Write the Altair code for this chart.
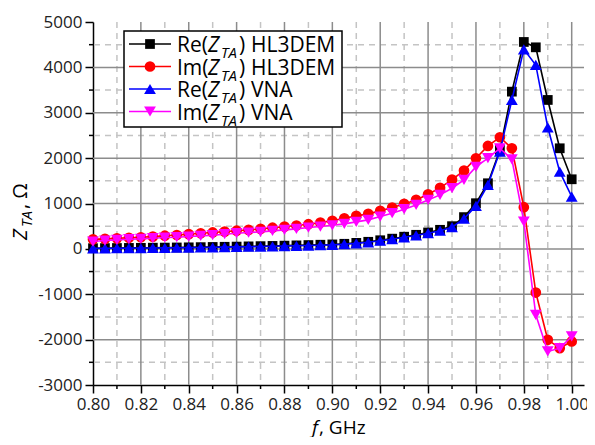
import altair as alt
import pandas as pd

# ---------------- data ----------------
freq = [0.800, 0.805, 0.810, 0.815, 0.820, 0.825, 0.830, 0.835, 0.840, 0.845,
        0.850, 0.855, 0.860, 0.865, 0.870, 0.875, 0.880, 0.885, 0.890, 0.895,
        0.900, 0.905, 0.910, 0.915, 0.920, 0.925, 0.930, 0.935, 0.940, 0.945,
        0.950, 0.955, 0.960, 0.965, 0.970, 0.975, 0.980, 0.985, 0.990, 0.995,
        1.000]

re_hl3dem = [15, 17, 19, 21, 23, 26, 28, 31, 34, 38, 42, 46, 50, 55, 60, 65, 71, 77, 84, 91, 98,
             112, 132, 156, 190, 225, 268, 310, 362, 420, 500,
             700, 1006, 1446, 2181, 3465, 4560, 4442, 3282, 2217, 1534]
im_hl3dem = [210, 220, 232, 244, 256, 270, 290, 306, 325, 344, 362, 380, 400, 418, 440, 466, 490, 514, 543, 578, 620,
             675, 727, 771, 837, 910, 991, 1079, 1204, 1345, 1527,
             1725, 1997, 2269, 2460, 2217, 918, -962, -2004, -2188, -2041]
re_vna = [10, 12, 14, 16, 18, 20, 22, 25, 28, 31, 35, 39, 43, 47, 52, 57, 62, 68, 74, 81, 88,
          103, 122, 145, 180, 213, 255, 296, 345, 400, 477,
          665, 947, 1410, 2144, 3282, 4398, 4053, 2680, 1703, 1153]
im_vna = [162, 184, 198, 213, 220, 235, 250, 257, 272, 286, 301, 323, 345, 360, 374, 396, 418, 440, 470, 492, 520,
          551, 595, 639, 712, 786, 874, 969, 1079, 1190, 1337,
          1520, 1806, 2000, 2217, 1975, 602, -1454, -2261, -2188, -1931]

series_names = ["Re HL3DEM", "Im HL3DEM", "Re VNA", "Im VNA"]
legend_prefix = ["Re(", "Im(", "Re(", "Im("]
legend_suffix = ["HL3DEM", "HL3DEM", "VNA", "VNA"]
series_colors = ["#000000", "#ff0000", "#0000ff", "#ff00ff"]
series_shapes = ["square", "circle", "triangle-up", "triangle-down"]
series_sizes = [95, 115, 140, 140]

x_major = [0.80, 0.82, 0.84, 0.86, 0.88, 0.90, 0.92, 0.94, 0.96, 0.98, 1.00]
x_minor = [0.81, 0.83, 0.85, 0.87, 0.89, 0.91, 0.93, 0.95, 0.97, 0.99]
y_major = [-3000, -2000, -1000, 0, 1000, 2000, 3000, 4000, 5000]
y_minor = [-2500, -1500, -500, 500, 1500, 2500, 3500, 4500]

# ---------------- layout ----------------
W, H = 491, 363
FONT = "Open Sans"
xs = alt.Scale(domain=[0.80, 1.00514], nice=False, zero=False)
ys = alt.Scale(domain=[-3000, 5000], nice=False, zero=False)

axX = alt.Axis(values=x_major, labelExpr="format(datum.value, '.2f')", tickSize=8,
               tickColor="black", tickWidth=1.5, domainColor="black", domainWidth=1.5,
               labelFont=FONT, labelFontSize=17, labelColor="#222222", labelPadding=3,
               grid=False, title=None, labelFlush=False, labelOverlap=False)
axY = alt.Axis(values=y_major, labelExpr="'' + datum.value", tickSize=8,
               tickColor="black", tickWidth=1.5, domainColor="black", domainWidth=1.5,
               labelFont=FONT, labelFontSize=17, labelColor="#222222", labelPadding=3,
               grid=False, title=None, labelOverlap=False)

one = pd.DataFrame({"a": [0]})

# grid lines
gxM = alt.Chart(pd.DataFrame({"x": x_major[1:]})).mark_rule(color="#8c8c8c", strokeWidth=1.5).encode(
    x=alt.X("x:Q", scale=xs, axis=axX))
gxm = alt.Chart(pd.DataFrame({"x": x_minor})).mark_rule(color="#c4c4c4", strokeWidth=1.5, strokeDash=[6, 5]).encode(
    x=alt.X("x:Q", scale=xs, axis=axX))
gyM = alt.Chart(pd.DataFrame({"y": y_major[1:-1]})).mark_rule(color="#8c8c8c", strokeWidth=1.5).encode(
    y=alt.Y("y:Q", scale=ys, axis=axY))
gym = alt.Chart(pd.DataFrame({"y": y_minor})).mark_rule(color="#c4c4c4", strokeWidth=1.5, strokeDash=[6, 5]).encode(
    y=alt.Y("y:Q", scale=ys, axis=axY))

# minor ticks
txm = alt.Chart(pd.DataFrame({"x": x_minor})).mark_rule(color="black", strokeWidth=1.5).encode(
    x=alt.X("x:Q", scale=xs, axis=axX), y=alt.value(H), y2=alt.value(H + 4))
tym = alt.Chart(pd.DataFrame({"y": y_minor})).mark_rule(color="black", strokeWidth=1.5).encode(
    y=alt.Y("y:Q", scale=ys, axis=axY), x=alt.value(-4), x2=alt.value(0))

layers = [gxm, gym, gxM, gyM, txm, tym]

all_vals = [re_hl3dem, im_hl3dem, re_vna, im_vna]
for name, vals, col, shp, sz in zip(series_names, all_vals, series_colors, series_shapes, series_sizes):
    df = pd.DataFrame({"f": freq, "v": vals})
    base = alt.Chart(df).encode(x=alt.X("f:Q", scale=xs, axis=axX), y=alt.Y("v:Q", scale=ys, axis=axY))
    layers.append(base.mark_line(color=col, strokeWidth=1.6))
    layers.append(base.mark_point(shape=shp, filled=True, size=sz, color=col, opacity=1))

# legend box
layers.append(alt.Chart(one).mark_rect(fill="white", stroke="black", strokeWidth=1.5).encode(
    x=alt.value(31), x2=alt.value(249), y=alt.value(9), y2=alt.value(105)))
row_y = [22, 44.5, 67, 89.5]
for i in range(4):
    ry = row_y[i]
    col = series_colors[i]
    layers.append(alt.Chart(one).mark_rule(color=col, strokeWidth=1.6).encode(
        x=alt.value(36), x2=alt.value(78), y=alt.value(ry)))
    layers.append(alt.Chart(one).mark_point(shape=series_shapes[i], filled=True, size=series_sizes[i],
                                            color=col, opacity=1).encode(x=alt.value(57), y=alt.value(ry)))
    x0 = 84
    layers.append(alt.Chart(one).mark_text(font=FONT, fontSize=21, align="left", baseline="alphabetic",
                                           color="black").encode(
        x=alt.value(x0), y=alt.value(ry + 8), text=alt.value(legend_prefix[i])))
    layers.append(alt.Chart(one).mark_text(font=FONT, fontSize=21, fontStyle="italic", align="left",
                                           baseline="alphabetic", color="black").encode(
        x=alt.value(x0 + 31), y=alt.value(ry + 8), text=alt.value("Z")))
    layers.append(alt.Chart(one).mark_text(font=FONT, fontSize=15, fontStyle="italic", align="left",
                                           baseline="alphabetic", color="black").encode(
        x=alt.value(x0 + 44), y=alt.value(ry + 14), text=alt.value("TA")))
    layers.append(alt.Chart(one).mark_text(font=FONT, fontSize=21, align="left", baseline="alphabetic",
                                           color="black").encode(
        x=alt.value(x0 + 62), y=alt.value(ry + 8), text=alt.value(")")))
    layers.append(alt.Chart(one).mark_text(font=FONT, fontSize=21, align="left", baseline="alphabetic",
                                           color="black").encode(
        x=alt.value(x0 + 74), y=alt.value(ry + 8), text=alt.value(legend_suffix[i])))

# x axis title: "f, GHz"
layers.append(alt.Chart(one).mark_text(font=FONT, fontSize=19, fontStyle="italic", align="left",
                                       baseline="alphabetic", color="black").encode(
    x=alt.value(219), y=alt.value(412), text=alt.value("f")))
layers.append(alt.Chart(one).mark_text(font=FONT, fontSize=19, align="left",
                                       baseline="alphabetic", color="black").encode(
    x=alt.value(226), y=alt.value(412), text=alt.value(", GHz")))

# y axis title: "Z_TA , Ω" rotated
layers.append(alt.Chart(one).mark_text(font=FONT, fontSize=20, fontStyle="italic", align="left",
                                       baseline="alphabetic", angle=270, color="black").encode(
    x=alt.value(-66), y=alt.value(218), text=alt.value("Z")))
layers.append(alt.Chart(one).mark_text(font=FONT, fontSize=15, fontStyle="italic", align="left",
                                       baseline="alphabetic", angle=270, color="black").encode(
    x=alt.value(-61), y=alt.value(205), text=alt.value("TA")))
layers.append(alt.Chart(one).mark_text(font=FONT, fontSize=20, align="left",
                                       baseline="alphabetic", angle=270, color="black").encode(
    x=alt.value(-66), y=alt.value(187), text=alt.value(" , Ω")))

chart = alt.layer(*layers).properties(
    width=W, height=H,
    autosize=alt.AutoSizeParams(type="none"),
    padding={"left": 85, "top": 14, "right": 3, "bottom": 52},
).configure_view(stroke=None)

chart.save("out.html", embed_options={"renderer": "svg", "actions": False})
